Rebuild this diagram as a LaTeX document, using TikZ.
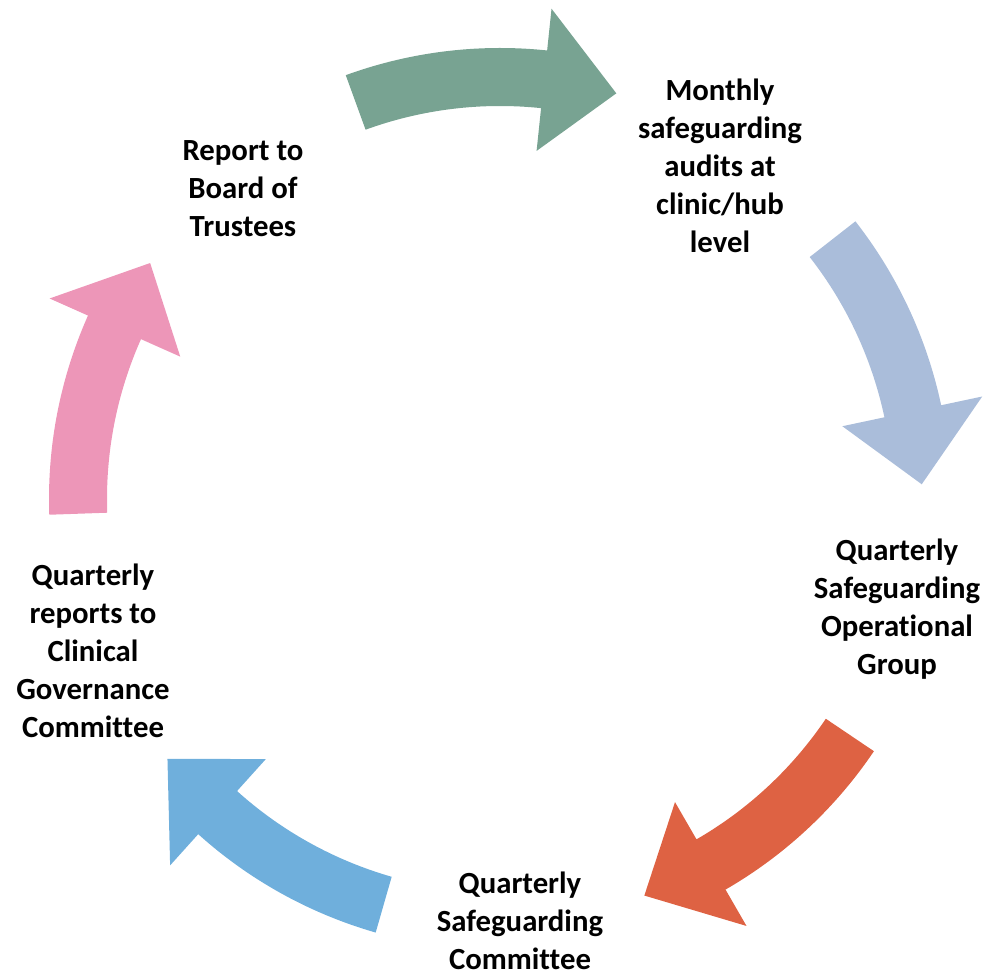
\documentclass[tikz,border=0pt]{standalone}
\usepackage{fontspec}
\setmainfont{Carlito}[Ligatures=NoCommon]
\usetikzlibrary{calc}

\definecolor{cycgreen}{HTML}{78A392}
\definecolor{cycsky}{HTML}{AABDDA}
\definecolor{cycorange}{HTML}{DE6243}
\definecolor{cycblue}{HTML}{6FAFDC}
\definecolor{cycpink}{HTML}{ED96B8}

\tikzset{stagetext/.style={align=center, font=\bfseries\fontsize{17.5}{21.6}\selectfont}}

\begin{document}
\begin{tikzpicture}
	\def\rin{7.86}
	\def\rout{9.02}
	\def\hin{7.0}
	\def\hout{9.86}
	\def\rmid{8.44}

	\useasboundingbox (0,0) rectangle (19.72,19.5);
	\coordinate (C) at (10,9.52);

	% Make arrows
	\foreach \a/\col in {110/cycgreen, 38/cycsky, -34/cycorange, -106/cycblue, -178/cycpink} {
		\pgfmathsetmacro{\b}{\a-26}
		\pgfmathsetmacro{\c}{\a-36}
		\fill[\col] ($(C)+(\a:\rin)$) arc[start angle=\a, end angle=\b, radius=\rin cm]
			-- ($(C)+(\b:\hin)$) -- ($(C)+(\c:\rmid)$) -- ($(C)+(\b:\hout)$)
			-- ($(C)+(\b:\rout)$) arc[start angle=\b, end angle=\a, radius=\rout cm] -- cycle;
	}

	% Make nodes
	\node[stagetext] (report) at (4.86,15.72) {Report to\\Board of\\Trustees};
	\node[stagetext] (audits) at (14.40,16.18) {Monthly\\safeguarding\\audits at\\clinic/hub\\level};
	\node[stagetext] (opgroup) at (17.94,7.32) {Quarterly\\Safeguarding\\Operational\\Group};
	\node[stagetext] (committee) at (10.40,1.08) {Quarterly\\Safeguarding\\Committee};
	\node[stagetext] (governance) at (1.86,6.48) {Quarterly\\reports to\\Clinical\\Governance\\Committee};
\end{tikzpicture}
\end{document}
